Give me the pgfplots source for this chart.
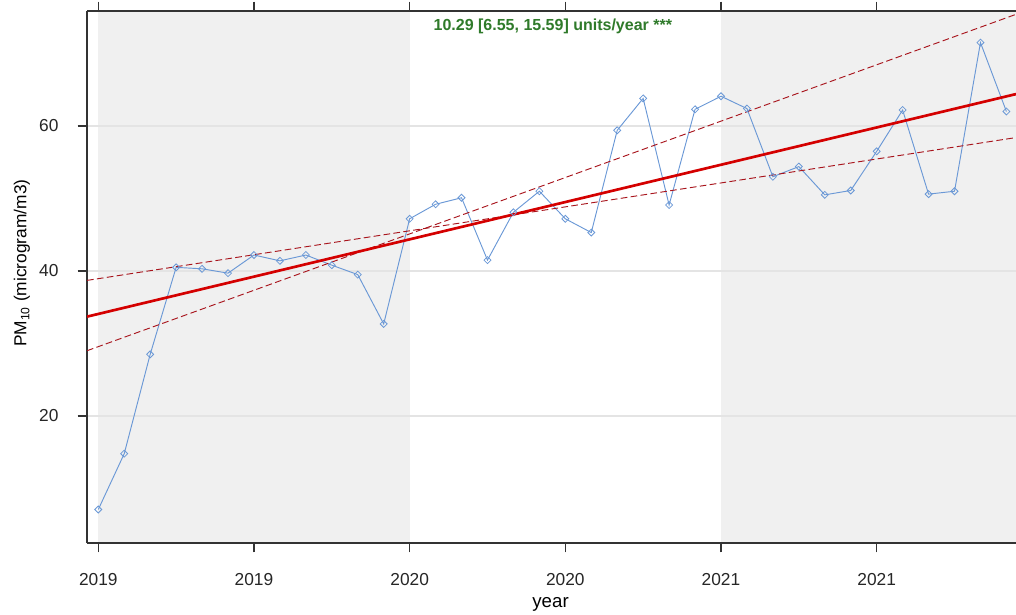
\documentclass[border=0pt]{standalone}
\usepackage{pgfplots}
\pgfplotsset{compat=1.18}
\usepackage{fontspec}
\setmainfont{Liberation Sans}
\definecolor{bggray}{HTML}{F0F0F0}
\definecolor{gridc}{HTML}{E4E4E4}
\definecolor{serie}{HTML}{6A98D6}
\definecolor{trend}{HTML}{D40000}
\definecolor{ci}{HTML}{A8141C}
\definecolor{txtgreen}{HTML}{2F7A2A}
\definecolor{axc}{HTML}{333333}
\begin{document}
\begin{tikzpicture}
\begin{axis}[
  set layers,
  scale only axis,
  width=696.75pt, height=399pt,
  xmin=-0.435, xmax=35.37,
  ymin=2.48, ymax=75.86,
  axis x line*=box, axis y line*=left,
  x axis line style={-}, y axis line style={-},
  axis line style={color=axc, line width=0.9pt},
  tick style={color=axc, line width=0.9pt},
  tick align=outside,
  major tick length=7pt,
  xtick={0,6,12,18,24,30},
  xticklabels={2019,2019,2020,2020,2021,2021},
  ytick={20,40,60},
  minor tick num=0,
  ymajorgrids,
  grid style={gridc, line width=0.8pt},
  /pgf/number format/assume math mode=true,
  tick label style={font=\fontsize{13}{15}\selectfont, color=black!85, inner sep=0pt},
  x tick label style={anchor=base, yshift=-24.75pt},
  y tick label style={anchor=east, xshift=-14.25pt},
  xlabel={year},
  ylabel={PM\textsubscript{10} (microgram/m3)},
  xlabel style={font=\fontsize{14}{16}\selectfont, at={(axis description cs:0.499,0)}, anchor=base, yshift=-48pt, inner sep=0pt},
  ylabel style={font=\fontsize{13}{15}\selectfont, at={(axis description cs:-0.070,0.526)}, anchor=center, inner sep=0pt},
]
\begin{pgfonlayer}{axis background}
\fill[bggray] (axis cs:0,2.48) rectangle (axis cs:12,75.86);
\fill[bggray] (axis cs:24,2.48) rectangle (axis cs:35.37,75.86);
\end{pgfonlayer}

\addplot[serie, line width=0.7pt, mark=square, mark size=1.85pt, mark options={fill=none, draw=serie, line width=0.6pt, rotate=45}] coordinates {
(0,7.1) (1,14.8) (2,28.5) (3,40.5) (4,40.3) (5,39.7) (6,42.2) (7,41.4) (8,42.2) (9,40.8) (10,39.5) (11,32.7)
(12,47.2) (13,49.2) (14,50.1) (15,41.5) (16,48.1) (17,51.0) (18,47.2) (19,45.3) (20,59.4) (21,63.8) (22,49.1) (23,62.3)
(24,64.1) (25,62.4) (26,53.0) (27,54.4) (28,50.5) (29,51.1) (30,56.5) (31,62.2) (32,50.6) (33,51.0) (34,71.5) (35,62.0)
};

\addplot[ci, line width=0.7pt, dash pattern=on 5pt off 2.5pt] coordinates {(-0.435,38.7) (35.37,58.4)};
\addplot[ci, line width=0.7pt, dash pattern=on 5pt off 2.5pt] coordinates {(-0.435,29.0) (35.37,75.4)};
\addplot[trend, line width=2pt] coordinates {(-0.435,33.7) (35.37,64.4)};

\node[anchor=base, font=\bfseries\fontsize{12}{14}\selectfont, text=txtgreen, inner sep=0pt] at (axis cs:17.52,73.2) {10.29 [6.55, 15.59] units/year ***};
\end{axis}
\pgfresetboundingbox
\path ([shift={(-65.25pt,-53.25pt)}]current axis.south west) rectangle ([shift={(0pt,8.25pt)}]current axis.north east);
\end{tikzpicture}
\end{document}
